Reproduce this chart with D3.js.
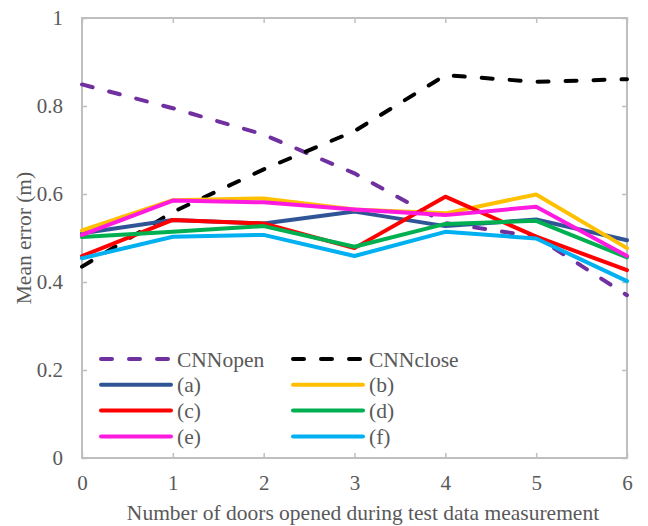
<!DOCTYPE html>
<html>
<head>
<meta charset="utf-8">
<script src="https://d3js.org/d3.v7.min.js"></script>
<style>
body{margin:0;background:#fff;}
svg text{font-family:'Liberation Serif','DejaVu Serif',serif !important;fill:#595959;}
</style>
</head>
<body>
<svg id="chart" width="648" height="526"></svg>
<script>
// doors opened (x) and the mean error of each series
var doors = [0, 1, 2, 3, 4, 5, 6];
var yTicks = [0, 0.2, 0.4, 0.6, 0.8, 1];
var cnnOpen  = [0.849, 0.795, 0.735, 0.647, 0.534, 0.503, 0.370];
var cnnClose = [0.435, 0.559, 0.656, 0.743, 0.870, 0.855, 0.861];
var serA = [0.511, 0.541, 0.533, 0.560, 0.527, 0.542, 0.495];
var serB = [0.517, 0.586, 0.590, 0.565, 0.556, 0.599, 0.477];
var serC = [0.459, 0.541, 0.533, 0.477, 0.594, 0.503, 0.427];
var serD = [0.502, 0.514, 0.527, 0.480, 0.532, 0.539, 0.456];
var serE = [0.507, 0.585, 0.581, 0.565, 0.552, 0.571, 0.459];
var serF = [0.454, 0.503, 0.507, 0.459, 0.514, 0.499, 0.402];
var names = ['CNNopen', 'CNNclose', '(a)', '(b)', '(c)', '(d)', '(e)', '(f)'];

var series = [
  {name: names[0], vals: cnnOpen,  color: '#7030a0', dash: true},
  {name: names[1], vals: cnnClose, color: '#000000', dash: true},
  {name: names[2], vals: serA, color: '#2f5597'},
  {name: names[3], vals: serB, color: '#ffc000'},
  {name: names[4], vals: serC, color: '#ff0000'},
  {name: names[5], vals: serD, color: '#00b050'},
  {name: names[6], vals: serE, color: '#ff1ae0'},
  {name: names[7], vals: serF, color: '#00b0f0'}
];

var L = 82, R = 627, T = 18, B = 458;
var svg = d3.select('#chart');
var xs = d3.scaleLinear().domain([0, 6]).range([L, R]);
var ys = d3.scaleLinear().domain([0, 1]).range([B, T]);
var fs = 21.5, tfs = 21;
var serif = "'Liberation Serif','DejaVu Serif',serif";

// frame
svg.append('rect').attr('x', L).attr('y', T).attr('width', R - L).attr('height', B - T)
  .attr('fill', 'none').attr('stroke', '#bfbfbf').attr('stroke-width', 2);

function styleAxis(g){
  g.attr('font-family', serif);
  g.select('.domain').remove();
  g.selectAll('.tick line').attr('stroke', '#bfbfbf').attr('stroke-width', 1.5);
  g.selectAll('.tick text').style('font-size', tfs + 'px').attr('fill', '#595959');
}
svg.append('g').attr('transform', 'translate(0,' + B + ')')
  .call(d3.axisBottom(xs).tickValues(doors).tickSize(-5).tickPadding(17).tickFormat(d3.format('d')))
  .call(styleAxis);
svg.append('g').attr('transform', 'translate(0,' + T + ')')
  .call(d3.axisTop(xs).tickValues(doors).tickSize(-5).tickFormat(''))
  .call(styleAxis);
svg.append('g').attr('transform', 'translate(' + L + ',0)')
  .call(d3.axisLeft(ys).tickValues(yTicks).tickSize(-5).tickPadding(19).tickFormat(function(d){return d3.format('')(+d.toFixed(1));}))
  .call(styleAxis);
svg.append('g').attr('transform', 'translate(' + R + ',0)')
  .call(d3.axisRight(ys).tickValues(yTicks).tickSize(-5).tickFormat(''))
  .call(styleAxis);

// lines
var line = d3.line().x(function(d, i){return xs(doors[i]);}).y(function(d){return ys(d);});
series.forEach(function(s){
  svg.append('path').datum(s.vals).attr('d', line)
    .attr('fill', 'none').attr('stroke', s.color).attr('stroke-width', 4)
    .attr('stroke-linejoin', 'round').attr('stroke-linecap', 'round')
    .attr('stroke-dasharray', s.dash ? '11,17' : null);
});

// legend
var leg = svg.append('g').attr('font-family', serif);
series.forEach(function(s, i){
  var col = i % 2, row = Math.floor(i / 2);
  var lx = 101 + col * 192, ly = 359 + row * 25.8;
  leg.append('line').attr('x1', lx).attr('x2', lx + 70).attr('y1', ly).attr('y2', ly)
    .attr('stroke', s.color).attr('stroke-width', 4).attr('stroke-linecap', 'round')
    .attr('stroke-dasharray', s.dash ? '11,17' : null);
  leg.append('text').attr('x', lx + 76).attr('y', ly).attr('dy', '0.35em')
    .style('font-size', fs + 'px').text(s.name);
});

// axis titles
svg.append('text').attr('x', 363).attr('y', 520).attr('text-anchor', 'middle')
  .style('font-size', fs + 'px').text('Number of doors opened during test data measurement');
svg.append('text').attr('transform', 'translate(31,238) rotate(-90)').attr('text-anchor', 'middle')
  .style('font-size', fs + 'px').text('Mean error (m)');
</script>
</body>
</html>
